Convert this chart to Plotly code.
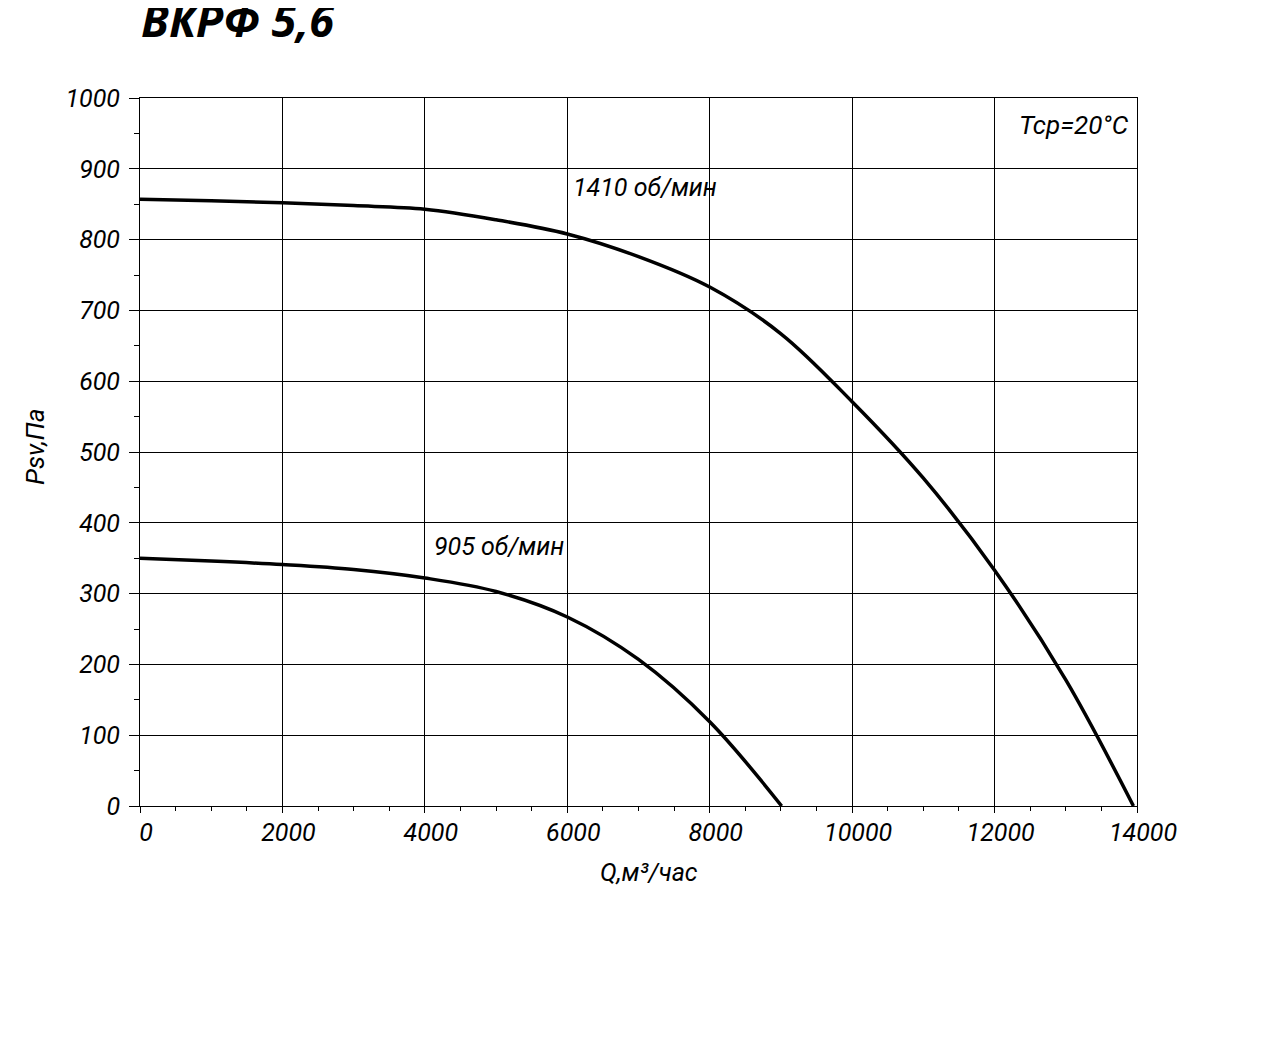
import plotly.graph_objects as go

# Data
q_1410 = [0, 1000, 2000, 3000, 4000, 5000, 6000, 7000, 8000, 9000, 10000, 11000, 12000, 13000, 13950]
p_1410 = [857, 855, 852, 848, 843, 828, 808, 776, 733, 667, 571, 463, 333, 178, 0]

q_905 = [0, 1000, 2000, 3000, 4000, 5000, 6000, 7000, 8000, 9010]
p_905 = [350, 346, 341, 334, 322, 303, 267, 207, 119, 0]

x_ticks = [0, 2000, 4000, 6000, 8000, 10000, 12000, 14000]
y_ticks = [0, 100, 200, 300, 400, 500, 600, 700, 800, 900, 1000]

font_main = "Roboto"

fig = go.Figure()
fig.add_trace(go.Scatter(x=q_1410, y=p_1410, mode="lines",
                         line=dict(color="black", width=3.5, shape="spline", smoothing=1.0),
                         showlegend=False, hoverinfo="skip"))
fig.add_trace(go.Scatter(x=q_905, y=p_905, mode="lines",
                         line=dict(color="black", width=3.5, shape="spline", smoothing=1.0),
                         showlegend=False, hoverinfo="skip"))

axis_common = dict(
    showline=True, linecolor="black", linewidth=1, mirror=True,
    showgrid=True, gridcolor="black", gridwidth=1,
    zeroline=False, ticks="outside", tickcolor="black", tickwidth=1,
    tickfont=dict(family=font_main, size=25, color="black", style="italic"),
)

fig.update_xaxes(range=[0, 14000], tickvals=x_ticks, ticktext=[str(v) for v in x_ticks],
                 ticklen=6, ticklabelstandoff=-2, ticklabelshift=6,
                 minor=dict(dtick=500, ticks="outside", ticklen=4, tickcolor="black", showgrid=False),
                 **axis_common)
fig.update_yaxes(range=[0, 1000], tickvals=y_ticks, ticktext=[str(v) for v in y_ticks],
                 ticklen=10, ticklabelstandoff=4,
                 minor=dict(dtick=50, ticks="outside", ticklen=5, tickcolor="black", showgrid=False),
                 **axis_common)

fig.update_layout(
    width=1262, height=1047,
    margin=dict(l=132, r=133, t=90, b=249, autoexpand=False),
    plot_bgcolor="white", paper_bgcolor="white",
    annotations=[
        dict(text="ВКРФ 5,6", xref="paper", yref="paper", x=0, y=1, xshift=-1, yshift=79,
             xanchor="left", yanchor="middle", showarrow=False,
             font=dict(family="Open Sans", size=45, color="black", weight="bold", style="italic")),
        dict(text="Tcp=20°C", xref="paper", yref="paper", x=1, y=1, xshift=-6, yshift=-27,
             xanchor="right", yanchor="middle", showarrow=False,
             font=dict(family=font_main, size=26, color="black", style="italic")),
        dict(text="1410 об/мин", x=6050, y=874, xanchor="left", yanchor="middle", showarrow=False,
             font=dict(family=font_main, size=25, color="black", style="italic")),
        dict(text="905 об/мин", x=4100, y=367, xanchor="left", yanchor="middle", showarrow=False,
             font=dict(family=font_main, size=25, color="black", style="italic")),
        dict(text="Q,м³/час", xref="paper", yref="paper", x=0.5, y=0, xshift=10, yshift=-66,
             xanchor="center", yanchor="middle", showarrow=False,
             font=dict(family=font_main, size=25, color="black", style="italic")),
        dict(text="Psv,Па", xref="paper", yref="paper", x=0, y=0.5, xshift=-105, yshift=5,
             xanchor="center", yanchor="middle", showarrow=False, textangle=-90,
             font=dict(family=font_main, size=26, color="black", style="italic")),
    ],
)

fig.write_html("out.html")
